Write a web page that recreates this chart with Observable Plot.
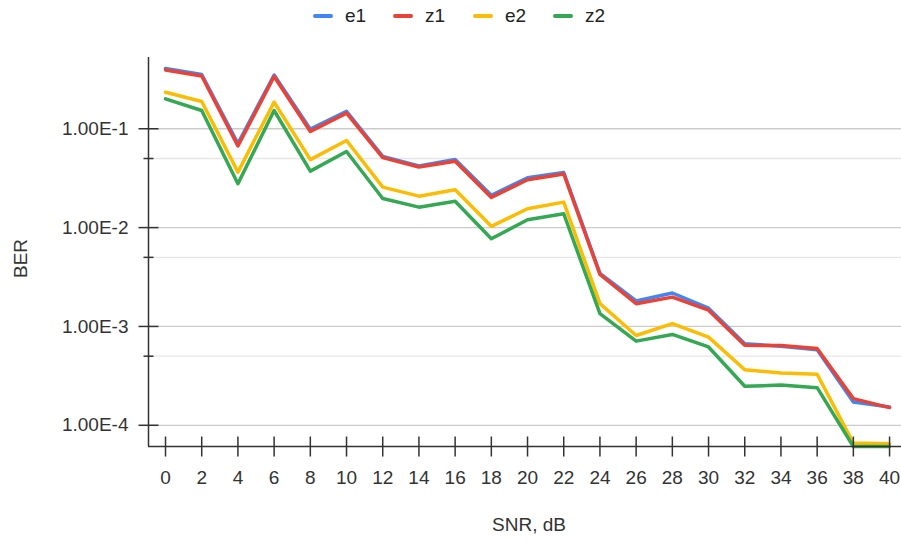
<!DOCTYPE html>
<html><head><meta charset="utf-8">
<script src="https://cdn.jsdelivr.net/npm/d3@7"></script>
<script src="https://cdn.jsdelivr.net/npm/@observablehq/plot@0.6"></script>
<style>
body{margin:0;background:#fff;font-family:"Liberation Sans",Arial,sans-serif;}
#legend{height:34px;display:flex;padding-left:313px;box-sizing:border-box;}
.item{flex:none;width:80px;height:32px;display:flex;align-items:center;font-size:19px;color:#222;}
.sw{width:20px;height:4px;border-radius:2px;margin-right:12px;}
</style></head><body>
<div id="legend"></div><div id="chart"></div>
<script>
const snr = [0,2,4,6,8,10,12,14,16,18,20,22,24,26,28,30,32,34,36,38,40];
const e1 = [0.407,0.354,0.071,0.35,0.099,0.150,0.0525,0.042,0.049,0.0212,0.0319,0.0361,0.00344,0.00181,0.00218,0.00153,0.00067,0.00063,0.00058,0.000172,0.000153];
const z1 = [0.394,0.342,0.067,0.338,0.094,0.144,0.051,0.041,0.047,0.0202,0.0305,0.0349,0.00336,0.0017,0.00198,0.00146,0.000644,0.00064,0.000597,0.000186,0.000151];
const e2 = [0.234,0.189,0.0364,0.186,0.0487,0.076,0.0257,0.0208,0.0242,0.0103,0.0155,0.0181,0.0017,0.00081,0.00107,0.00078,0.000365,0.000338,0.000328,0.000066,0.000065];
const z2 = [0.201,0.153,0.0278,0.153,0.0373,0.0589,0.0197,0.0161,0.0185,0.0077,0.012,0.0138,0.00135,0.00071,0.00083,0.00062,0.000248,0.000255,0.00024,0.000061,0.000061];
const seriesNames = ["e1","z1","e2","z2"];
const seriesColors = ["#4285F4","#EA4335","#FBBC04","#34A853"];
const majorTicks = [1e-1,1e-2,1e-3,1e-4];
const minorTicks = [5e-2,5e-3,5e-4];
const xLabel = "SNR, dB";
const yLabel = "BER";

const seriesValues = [e1,z1,e2,z2];
const rows = seriesNames.flatMap((s,i)=>snr.map((x,j)=>({snr:x, ber:seriesValues[i][j], series:s})));

// legend
const legend = document.getElementById("legend");
seriesNames.forEach((s,i)=>{
  const it = document.createElement("div"); it.className="item";
  const sw = document.createElement("div"); sw.className="sw"; sw.style.background=seriesColors[i];
  const t = document.createElement("span"); t.textContent=s;
  it.appendChild(sw); it.appendChild(t); legend.appendChild(it);
});

const xDomain = [-0.94, 40.66];
const yDomain = [6.1e-5, 0.526];
const fmt = d => d.toExponential(2).toUpperCase();
const ink = "#333";
const hTick = {draw(ctx, size){ const r = Math.sqrt(size/Math.PI); ctx.moveTo(-r,0); ctx.lineTo(r,0); }};
const vTick = {draw(ctx, size){ const r = Math.sqrt(size/Math.PI); ctx.moveTo(0,-r); ctx.lineTo(0,r); }};

const chart = Plot.plot({
  width:901, height:508, marginLeft:148, marginRight:0, marginTop:23, marginBottom:96,
  style:{fontFamily:"Liberation Sans, Arial, sans-serif", fontSize:"19px", color:ink, background:"#fff", overflow:"visible"},
  x:{domain:xDomain, axis:null},
  y:{type:"log", domain:yDomain, axis:null},
  color:{domain:seriesNames, range:seriesColors},
  marks:[
    Plot.ruleY(minorTicks,{stroke:"#e6e6e6", strokeWidth:1.3}),
    Plot.ruleY(majorTicks,{stroke:"#cccccc", strokeWidth:1.3}),
    Plot.lineY(rows,{x:"snr", y:"ber", z:"series", stroke:"series", strokeWidth:3.5}),
    Plot.ruleX([xDomain[0]],{stroke:ink, strokeWidth:1.5}),
    Plot.ruleY([yDomain[0]],{stroke:ink, strokeWidth:1.5}),
    Plot.dot(majorTicks,{x:()=>xDomain[0], y:d=>d, r:10, symbol:hTick, fill:"none", stroke:ink, strokeWidth:1.5}),
    Plot.dot(minorTicks,{x:()=>xDomain[0], y:d=>d, r:5, symbol:hTick, fill:"none", stroke:ink, strokeWidth:1.5}),
    Plot.text(majorTicks,{x:()=>xDomain[0], y:d=>d, text:fmt, textAnchor:"end", dx:-20, fill:ink}),
    Plot.dot(snr,{x:d=>d, y:()=>yDomain[0], r:10, symbol:vTick, fill:"none", stroke:ink, strokeWidth:1.5}),
    Plot.text(snr,{x:d=>d, y:()=>yDomain[0], text:d=>String(d), dy:31, fill:ink}),
    Plot.text([yLabel],{frameAnchor:"left", rotate:-90, dx:-128, dy:26, fill:ink}),
    Plot.text([xLabel],{frameAnchor:"bottom", dx:4, dy:84, fill:ink})
  ]
});
document.getElementById("chart").appendChild(chart);
</script></body></html>
